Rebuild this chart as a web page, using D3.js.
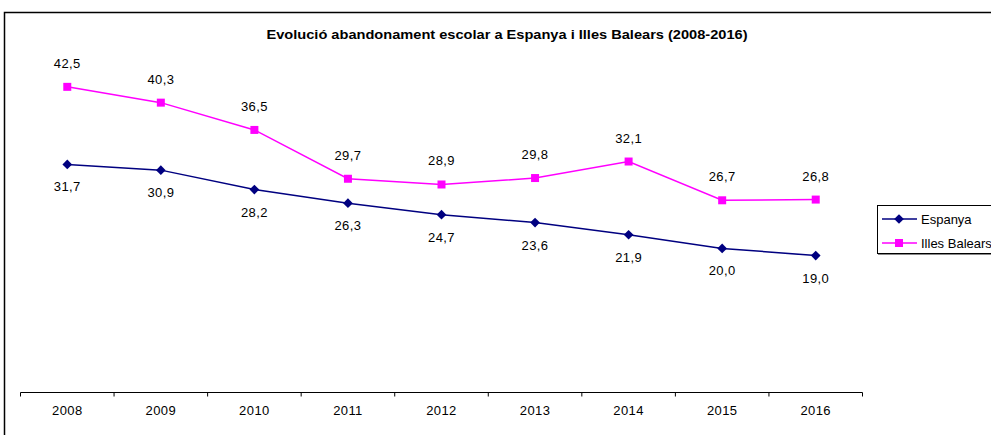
<!DOCTYPE html>
<html>
<head>
<meta charset="utf-8">
<script src="https://cdn.jsdelivr.net/npm/d3@7"></script>
<style>
  body { margin: 0; background: #fff; }
  svg { display: block; font-family: "Liberation Sans", Arial, sans-serif; }
</style>
</head>
<body>
<svg id="chart" width="991" height="435"></svg>
<script>
// Early school leaving rate (%), Spain vs. Balearic Islands
const years = ["2008", "2009", "2010", "2011", "2012", "2013", "2014", "2015", "2016"];
const espanya = [31.7, 30.9, 28.2, 26.3, 24.7, 23.6, 21.9, 20.0, 19.0];
const illesBalears = [42.5, 40.3, 36.5, 29.7, 28.9, 29.8, 32.1, 26.7, 26.8];
const seriesNames = ["Espanya", "Illes Balears"];
const seriesColors = ["#000080", "#FF00FF"];

const svg = d3.select("#chart");
const fmt = v => v.toFixed(1).replace(".", ",");

// outer frame (right and bottom edges fall outside the view)
svg.append("path")
  .attr("d", "M4.5,435 V12.5 H991")
  .attr("fill", "none").attr("stroke", "#000").attr("stroke-width", 1.5);

svg.append("text")
  .attr("x", 507).attr("y", 39)
  .attr("text-anchor", "middle")
  .attr("font-size", 12).attr("font-weight", "bold")
  .attr("textLength", 481).attr("lengthAdjust", "spacingAndGlyphs")
  .text("Evolució abandonament escolar a Espanya i Illes Balears (2008-2016)");

const x = d3.scaleBand().domain(years).range([20.5, 862.5]);
const y = d3.scaleLinear().domain([0, 50]).range([392, 33]);

// category axis
const xAxis = svg.append("g")
  .attr("transform", `translate(0,${y(0) + 0.5})`)
  .call(d3.axisBottom(x).tickSize(0).tickPadding(13));
xAxis.select(".domain").attr("d", `M${x.range()[0]},0H${x.range()[1]}`).attr("stroke", "#000");
xAxis.selectAll(".tick text")
  .attr("font-size", 13).attr("font-family", "Liberation Sans, Arial, sans-serif")
  .attr("fill", "#000").attr("letter-spacing", "0.4");
const boundaries = years.map(d => x(d)).concat([x.range()[1]]);
xAxis.selectAll("line.sep").data(boundaries).join("line")
  .attr("class", "sep")
  .attr("x1", d => d).attr("x2", d => d)
  .attr("y1", 0).attr("y2", 4)
  .attr("stroke", "#000");

const cx = d => x(d) + x.bandwidth() / 2;
const line = d3.line().x((d, i) => cx(years[i])).y(d => y(d));

const diamond = d3.symbol().type(d3.symbolDiamond2).size(60);
const square = d3.symbol().type(d3.symbolSquare).size(64);

function drawSeries(values, color, sym, labelDy) {
  const g = svg.append("g");
  g.append("path").datum(values)
    .attr("d", line).attr("fill", "none")
    .attr("stroke", color).attr("stroke-width", 1.5);
  g.selectAll("path.m").data(values).join("path")
    .attr("class", "m")
    .attr("transform", (d, i) => `translate(${cx(years[i])},${y(d)})`)
    .attr("d", sym).attr("fill", color);
  g.selectAll("text").data(values).join("text")
    .attr("x", (d, i) => cx(years[i]))
    .attr("y", d => y(d) + labelDy)
    .attr("text-anchor", "middle")
    .attr("font-size", 13).attr("letter-spacing", "0.4")
    .attr("fill", "#000")
    .text(fmt);
}

drawSeries(espanya, seriesColors[0], diamond, 27);
drawSeries(illesBalears, seriesColors[1], square, -19);

// legend
const lg = svg.append("g");
lg.append("rect").attr("x", 878).attr("y", 207).attr("width", 130).attr("height", 48)
  .attr("fill", "#888");
lg.append("rect").attr("x", 877.5).attr("y", 205.5).attr("width", 130).attr("height", 48)
  .attr("fill", "#fff").attr("stroke", "#000");
const syms = [diamond, square];
seriesNames.forEach((name, i) => {
  const ly = 219 + i * 24;
  lg.append("line").attr("x1", 882).attr("x2", 917).attr("y1", ly).attr("y2", ly)
    .attr("stroke", seriesColors[i]).attr("stroke-width", 1.5);
  lg.append("path").attr("transform", `translate(899,${ly})`)
    .attr("d", syms[i]).attr("fill", seriesColors[i]);
  lg.append("text").attr("x", 921).attr("y", ly + 4.5)
    .attr("font-size", 13).attr("fill", "#000").text(name);
});
</script>
</body>
</html>
